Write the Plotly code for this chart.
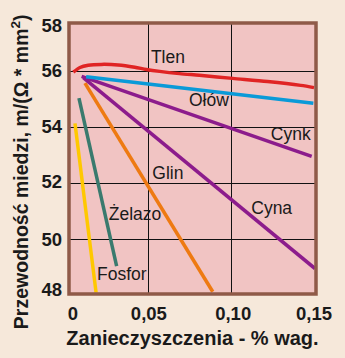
import plotly.graph_objects as go

# ---- data ----
tlen_x = [0.005, 0.009, 0.014, 0.022, 0.032, 0.042, 0.049, 0.057, 0.069, 0.081, 0.101, 0.122, 0.142, 0.150]
tlen_y = [55.97, 56.14, 56.22, 56.25, 56.23, 56.15, 56.07, 56.00, 55.92, 55.86, 55.75, 55.64, 55.50, 55.42]

olow_x = [0.0127, 0.1496]
olow_y = [55.81, 54.86]

cynk_x = [0.010, 0.1486]
cynk_y = [55.82, 52.96]

cyna_x = [0.011, 0.1506]
cyna_y = [55.78, 48.95]

glin_x = [0.012, 0.089]
glin_y = [55.58, 48.12]

zelazo_x = [0.0084, 0.0311]
zelazo_y = [55.04, 49.04]

fosfor_x = [0.006, 0.0187]
fosfor_y = [54.14, 48.09]

series_names = ["Tlen", "Ołów", "Cynk", "Cyna", "Glin", "Żelazo", "Fosfor"]
label_x = [0.062, 0.0867, 0.136, 0.1245, 0.062, 0.0422, 0.0342]
label_y = [56.45, 54.93, 53.72, 51.05, 52.30, 50.84, 48.71]

x_tick_vals = [0.0048, 0.0505, 0.1013, 0.150]
x_tick_text = ["0", "0,05", "0,10", "0,15"]
y_tick_vals = [48.2, 50.0, 52.05, 54.02, 56.03, 57.65]
y_tick_text = ["48", "50", "52", "54", "56", "58"]
x_grid = [0.05, 0.10]
y_grid = [50, 52, 54, 56]

x_title = "Zanieczyszczenia - % wag."
y_title = "Przewodność miedzi, m/(Ω * mm<sup>2</sup>)"

# ---- styles ----
colors = {
    "Tlen": "#E02424",
    "Ołów": "#0A9AD8",
    "Cynk": "#8C1C8C",
    "Cyna": "#8C1C8C",
    "Glin": "#EE7A12",
    "Żelazo": "#3A7A6E",
    "Fosfor": "#FFC800",
}

series = [
    ("Fosfor", fosfor_x, fosfor_y),
    ("Żelazo", zelazo_x, zelazo_y),
    ("Glin", glin_x, glin_y),
    ("Cyna", cyna_x, cyna_y),
    ("Cynk", cynk_x, cynk_y),
    ("Ołów", olow_x, olow_y),
    ("Tlen", tlen_x, tlen_y),
]

FAM = "Liberation Sans, Arial, sans-serif"

fig = go.Figure()
for name, xs, ys in series:
    fig.add_trace(go.Scatter(
        x=xs, y=ys, mode="lines", name=name,
        line=dict(color=colors[name], width=3.5, shape="spline", smoothing=0.8),
        showlegend=False, hoverinfo="skip",
    ))

fig.add_trace(go.Scatter(
    x=label_x, y=label_y, mode="text", text=series_names,
    textfont=dict(family=FAM, size=17.5, color="#1a1a1a"),
    showlegend=False, hoverinfo="skip",
))

fig.update_layout(
    width=345, height=358,
    margin=dict(l=69, r=29, t=23, b=55),
    paper_bgcolor="#F6E8DA",
    plot_bgcolor="#F1C4C3",
    font=dict(family=FAM, size=18, color="#1a1a1a"),
    xaxis=dict(
        range=[0.0024, 0.1512],
        tickmode="array", tickvals=x_tick_vals, ticktext=x_tick_text,
        showgrid=False, zeroline=False, showline=False,
        ticks="", ticklabelstandoff=6,
        tickfont=dict(family=FAM, size=18.5, color="#1a1a1a", weight="bold"),
        minor=dict(tickmode="array", tickvals=x_grid, showgrid=True, gridcolor="#111111", gridwidth=1, ticks=""),
        title=dict(text=x_title, standoff=8,
                   font=dict(family=FAM, size=20, color="#1a1a1a", weight="bold")),
    ),
    yaxis=dict(
        range=[48.04, 57.73],
        tickmode="array", tickvals=y_tick_vals, ticktext=y_tick_text,
        showgrid=False, zeroline=False, showline=False,
        ticks="", ticklabelstandoff=6,
        tickfont=dict(family=FAM, size=18.5, color="#1a1a1a", weight="bold"),
        minor=dict(tickmode="array", tickvals=y_grid, showgrid=True, gridcolor="#111111", gridwidth=1, ticks=""),
    ),
    annotations=[dict(
        text=y_title, textangle=-90, showarrow=False,
        xref="paper", yref="paper", x=-0.198, y=0.45,
        xanchor="center", yanchor="middle",
        font=dict(family=FAM, size=19.5, color="#1a1a1a", weight="bold"),
    )],
    shapes=[dict(type="rect", xref="paper", yref="paper", x0=0, x1=1, y0=0, y1=1,
                 line=dict(color="#8F5A48", width=3.5), layer="above")],
)

fig.write_html("out.html")
